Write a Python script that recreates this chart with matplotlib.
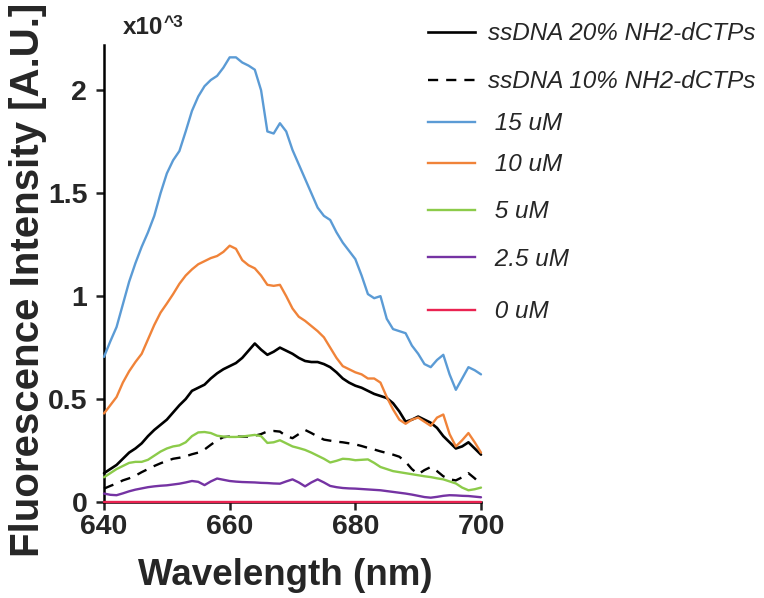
import numpy as np
import matplotlib
matplotlib.use("Agg")
import matplotlib.pyplot as plt
from matplotlib.lines import Line2D

plt.rcParams["font.family"] = ["Liberation Sans", "DejaVu Sans"]

# Emission wavelengths (nm)
wavelength = np.arange(640, 701)

# Fluorescence intensity, in units of 10^3 A.U.
ssdna_20 = [0.14, 0.16, 0.18, 0.21, 0.24, 0.26, 0.285, 0.32, 0.35, 0.375,
            0.40, 0.435, 0.47, 0.50, 0.54, 0.555, 0.57, 0.60, 0.625, 0.645,
            0.66, 0.675, 0.70, 0.735, 0.77, 0.74, 0.715, 0.73, 0.75, 0.735,
            0.72, 0.70, 0.685, 0.68, 0.68, 0.67, 0.655, 0.63, 0.60, 0.58,
            0.565, 0.555, 0.54, 0.525, 0.515, 0.505, 0.48, 0.44, 0.39, 0.40,
            0.415, 0.40, 0.385, 0.36, 0.32, 0.29, 0.26, 0.27, 0.29, 0.26,
            0.23]
ssdna_10 = [0.065, 0.078, 0.09, 0.105, 0.115, 0.128, 0.145, 0.16, 0.175, 0.188,
            0.20, 0.21, 0.215, 0.222, 0.232, 0.24, 0.255, 0.278, 0.30, 0.315,
            0.318, 0.318, 0.317, 0.318, 0.322, 0.33, 0.343, 0.345, 0.342, 0.32,
            0.31, 0.33, 0.35, 0.335, 0.318, 0.303, 0.298, 0.293, 0.29, 0.285,
            0.28, 0.272, 0.263, 0.255, 0.246, 0.238, 0.23, 0.22, 0.195, 0.16,
            0.135, 0.155, 0.17, 0.15, 0.125, 0.11, 0.105, 0.12, 0.14, 0.115,
            0.085]
conc_15 = [0.705, 0.78, 0.85, 0.96, 1.07, 1.16, 1.24, 1.31, 1.39, 1.50,
           1.596, 1.66, 1.705, 1.80, 1.90, 1.97, 2.02, 2.05, 2.07, 2.11,
           2.16, 2.16, 2.135, 2.12, 2.10, 2.00, 1.80, 1.79, 1.84, 1.80,
           1.71, 1.64, 1.57, 1.50, 1.43, 1.39, 1.37, 1.31, 1.26, 1.22,
           1.18, 1.10, 1.01, 0.99, 1.00, 0.89, 0.84, 0.83, 0.82, 0.76,
           0.72, 0.67, 0.655, 0.69, 0.715, 0.62, 0.545, 0.60, 0.655, 0.64,
           0.62]
conc_10 = [0.43, 0.47, 0.51, 0.58, 0.635, 0.68, 0.72, 0.79, 0.86, 0.92,
           0.964, 1.01, 1.06, 1.10, 1.13, 1.155, 1.17, 1.185, 1.195, 1.215,
           1.245, 1.23, 1.175, 1.15, 1.135, 1.10, 1.055, 1.05, 1.055, 1.00,
           0.94, 0.90, 0.88, 0.855, 0.83, 0.80, 0.75, 0.70, 0.66, 0.645,
           0.63, 0.62, 0.60, 0.60, 0.58, 0.51, 0.45, 0.40, 0.38, 0.40,
           0.41, 0.39, 0.37, 0.41, 0.425, 0.33, 0.27, 0.30, 0.335, 0.29,
           0.24]
conc_5 = [0.12, 0.14, 0.16, 0.175, 0.19, 0.195, 0.195, 0.205, 0.225, 0.245,
          0.26, 0.27, 0.275, 0.29, 0.32, 0.338, 0.34, 0.335, 0.322, 0.318,
          0.316, 0.316, 0.318, 0.322, 0.326, 0.32, 0.287, 0.29, 0.30, 0.285,
          0.27, 0.262, 0.253, 0.24, 0.225, 0.21, 0.192, 0.20, 0.21, 0.208,
          0.203, 0.205, 0.207, 0.19, 0.17, 0.16, 0.15, 0.145, 0.14, 0.135,
          0.13, 0.125, 0.121, 0.115, 0.11, 0.10, 0.09, 0.07, 0.057, 0.062,
          0.07]
conc_2_5 = [0.041, 0.035, 0.033, 0.042, 0.052, 0.06, 0.066, 0.072, 0.076, 0.079,
            0.081, 0.085, 0.089, 0.095, 0.102, 0.098, 0.082, 0.10, 0.114, 0.108,
            0.102, 0.099, 0.097, 0.096, 0.095, 0.093, 0.092, 0.09, 0.089, 0.10,
            0.11, 0.095, 0.076, 0.095, 0.11, 0.095, 0.078, 0.072, 0.068, 0.066,
            0.065, 0.063, 0.061, 0.059, 0.057, 0.053, 0.049, 0.045, 0.041, 0.036,
            0.03, 0.024, 0.021, 0.025, 0.03, 0.033, 0.032, 0.03, 0.029, 0.026,
            0.023]
conc_0 = [0.0] * len(wavelength)

labels = ["ssDNA 20% NH2-dCTPs", "ssDNA 10% NH2-dCTPs",
          " 15 uM", " 10 uM", " 5 uM", " 2.5 uM", " 0 uM"]
x_ticks = [640, 660, 680, 700]
y_ticks = [0, 0.5, 1, 1.5, 2]
y_tick_labels = ["0", "0.5", "1", "1.5", "2"]

series = [ssdna_20, ssdna_10, conc_15, conc_10, conc_5, conc_2_5, conc_0]
colors = ["#000000", "#000000", "#5B9BD5", "#F08339", "#8CCB4A", "#7533A3", "#EA2351"]
styles = ["-", "--", "-", "-", "-", "-", "-"]
widths = [1.9, 1.7, 1.7, 1.7, 1.7, 1.7, 1.7]
draw_order = [2, 3, 0, 1, 4, 5, 6]

W, H = 764, 598
fig = plt.figure(figsize=(W / 100, H / 100), dpi=100)
ax = fig.add_axes([104 / W, 1 - 502 / H, (481 - 104) / W, (502 - 45) / H])

for i in draw_order:
    kw = dict(color=colors[i], lw=widths[i], linestyle=styles[i],
              solid_joinstyle="round", dash_joinstyle="round",
              solid_capstyle="round", clip_on=False, zorder=3 + i * 0.1)
    if styles[i] == "--":
        kw["dashes"] = (4.3, 3.4)
    ax.plot(wavelength, series[i], **kw)

ax.set_xlim(640, 700)
ax.set_ylim(0, 2.22)
ax.set_xticks(x_ticks)
ax.set_yticks(y_ticks)
ax.set_yticklabels(y_tick_labels)
for s in ["top", "right"]:
    ax.spines[s].set_visible(False)
for s in ["left", "bottom"]:
    ax.spines[s].set_linewidth(1.8)
    ax.spines[s].set_zorder(2)
ax.tick_params(axis="both", direction="out", length=6, width=1.8,
               labelsize=20.5, colors="#222222", labelcolor="#262626")
ax.tick_params(axis="y", pad=6)
ax.tick_params(axis="x", pad=3)
for lab in ax.get_xticklabels() + ax.get_yticklabels():
    lab.set_fontweight("bold")

fig.text(285 / W, 1 - 585 / H, "Wavelength (nm)", ha="center", va="baseline",
         fontsize=26.5, fontweight="bold", color="#262626")
fig.text(28 / W, 1 - 280 / H, "Fluorescence Intensity [A.U.]", ha="center",
         va="center", rotation=90, fontsize=29, fontweight="bold", color="#262626")
fig.text(123 / W, 1 - 34 / H, "x10", ha="left", va="baseline",
         fontsize=17.5, fontweight="bold", color="#262626")
fig.text(164 / W, 1 - 27 / H, "^3", ha="left", va="baseline",
         fontsize=12.5, fontweight="bold", color="#262626")

# Key drawn beside the axes
row_y = [31.7, 80, 121.7, 162.7, 210, 257, 310]
for i, y in enumerate(row_y):
    yf = 1 - y / H
    ln = Line2D([428 / W, 475 / W], [yf, yf], transform=fig.transFigure,
                color=colors[i], lw=widths[i], linestyle=styles[i])
    if styles[i] == "--":
        ln.set_dashes((4.3, 3.4))
    fig.add_artist(ln)
    fig.text(488 / W, yf - 2 / H, labels[i], ha="left", va="center", fontsize=17.5,
             fontstyle="italic", color="#262626")

fig.savefig("out.png", dpi=100)
